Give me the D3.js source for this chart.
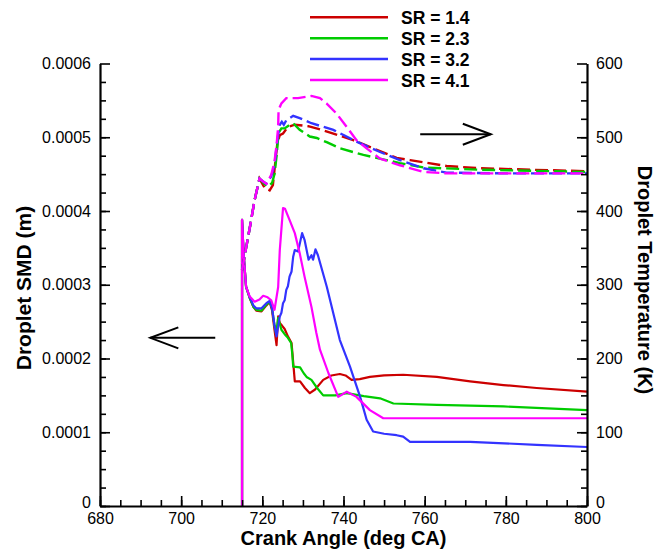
<!DOCTYPE html>
<html>
<head>
<meta charset="utf-8">
<script src="https://cdn.jsdelivr.net/npm/d3@7"></script>
<style>
  body { margin: 0; background: #fff; }
  svg { display: block; font-family: "Liberation Sans", Arial, sans-serif; }
</style>
</head>
<body>
<div id="chart"></div>
<script>
// Crank angle ticks and value ticks
const angleTicks = [680, 700, 720, 740, 760, 780, 800];
const smdTicks = [0, 0.0001, 0.0002, 0.0003, 0.0004, 0.0005, 0.0006];
const tempTicks = [0, 100, 200, 300, 400, 500, 600];

const seriesNames = ["SR = 1.4", "SR = 2.3", "SR = 3.2", "SR = 4.1"];
const seriesColors = ["#cc0000", "#00cc00", "#3333ff", "#ff00ff"];

// Droplet SMD (m) vs crank angle
const smd14 = [[715,0],[715,0.000388],[715.4,0.00034],[716,0.000297],[716.9,0.000282],[717.8,0.00027],
  [718.5,0.000265],[719.8,0.000264],[721,0.000272],[721.8,0.000277],[722.4,0.000265],[723,0.000239],
  [723.5,0.000218],[723.9,0.000257],[724.3,0.000248],[724.8,0.000245],[725.5,0.00024],[726.3,0.00023],
  [727.2,0.000221],[728,0.000169],[729.3,0.000169],[730.5,0.00016],[731.7,0.000153],[733,0.000158],
  [735,0.000171],[737,0.000177],[739.1,0.000179],[740.5,0.000177],[742,0.000171],[744,0.000172],
  [746.5,0.000175],[750,0.000177],[754.7,0.000178],[763,0.000175],[771.2,0.000169],[779.4,0.000164],
  [787.6,0.00016],[800,0.000155]];
const smd23 = [[715,0],[715,0.000388],[715.4,0.00034],[716,0.000297],[716.9,0.000282],[717.8,0.00027],
  [718.5,0.000266],[719.8,0.000265],[721,0.000273],[721.8,0.000277],[722.4,0.000268],[723,0.000245],
  [723.4,0.000233],[723.9,0.000255],[724.7,0.000239],[725.5,0.000233],[726.3,0.000228],[727.1,0.000221],
  [727.4,0.000205],[727.6,0.000189],[729.3,0.000188],[730.2,0.00018],[730.9,0.000175],[732.1,0.000171],
  [733.5,0.00016],[735,0.00015],[738,0.00015],[740.8,0.000153],[745,0.000149],[749,0.000146],
  [752.3,0.000139],[763,0.000137],[779.4,0.000135],[800,0.00013]];
const smd32 = [[715,0],[715,0.000388],[715.4,0.00034],[716,0.000297],[716.9,0.000283],[717.8,0.000272],
  [718.5,0.000268],[719.8,0.000268],[721,0.000275],[721.8,0.000278],[722.4,0.000268],[723,0.000245],
  [723.5,0.00023],[724.3,0.000257],[724.7,0.000262],[725.1,0.000275],[725.5,0.000279],[725.9,0.000293],
  [726.3,0.000298],[726.7,0.000311],[727.2,0.000318],[727.6,0.000338],[728,0.000347],[728.8,0.000345],
  [729.8,0.00037],[730.4,0.000361],[731.4,0.000334],[732.1,0.00034],[732.5,0.000334],[733.1,0.000348],
  [733.7,0.00034],[735.9,0.000297],[739.1,0.000225],[741.6,0.000189],[744.1,0.000148],[745.7,0.000117],
  [747.3,0.000101],[750,0.000098],[753.1,0.000096],[754.7,0.000094],[756.4,0.000087],[771.2,0.000087],
  [787.6,0.000083],[800,0.00008]];
const smd41 = [[715,0],[715,0.000388],[715.4,0.00034],[716,0.000297],[716.9,0.000284],[718.1,0.000277],
  [719.3,0.00028],[720.2,0.000285],[721.3,0.000283],[722.2,0.000279],[723,0.000266],[723.9,0.000297],
  [724.3,0.000347],[725.1,0.000404],[725.6,0.000403],[726.7,0.000388],[728,0.00037],[729.2,0.000343],
  [730.4,0.000311],[732.1,0.00027],[733.3,0.000235],[734.2,0.000212],[736.3,0.00018],[738.7,0.000148],
  [740.8,0.000155],[743.2,0.000148],[746.5,0.00013],[749.8,0.000119],[760,0.000119],[800,0.000119]];

// Droplet temperature (K) vs crank angle
const temp14 = [[715,320],[716,350],[717,380],[718.1,415],[719.3,444],[720.6,431],[721.8,428],[722.6,435],
  [723,456],[723.7,492],[724.3,503],[725.1,505],[726.3,514],[728,517],[731.3,515],[734,511],[737.5,505],
  [742.4,496],[748.2,483],[753.1,472],[756.4,469],[765.4,461],[773.6,458],[786,456],[800,454]];
const temp23 = [[715,320],[716,350],[717,380],[718.1,415],[719.3,444],[720.4,437],[721.4,433],[722.4,438],
  [723,450],[723.5,474],[724,506],[724.7,512],[725.5,512],[726.5,516],[727.6,519],[729.2,510],[731.7,501],
  [733.4,499],[736,493],[739.1,485],[744.9,476],[750.6,469],[753.9,465],[759.7,459],[773.6,456],[800,453]];
const temp32 = [[715,320],[716,350],[717,380],[718.1,415],[719.3,444],[720.2,440],[721,437],[722.2,447],
  [723,462],[723.7,496],[724.3,517],[724.8,521],[725.3,517],[725.9,523],[727.6,529],[729.2,526],[732.1,519],
  [734.5,515],[737.5,510],[740,503],[743.2,494],[749,480],[753.9,469],[759.7,458],[765.4,452],[780,451],[800,451]];
const temp41 = [[715,320],[716,350],[717,380],[718.1,415],[719.3,444],[720.2,440],[721,437],[722.2,449],
  [723,467],[723.5,489],[723.9,514],[724,537],[724.7,546],[725.9,553],[728.8,553],[732.1,556],[734.2,553],
  [735.8,546],[738.3,532],[740.8,514],[743.2,496],[745.7,485],[749,471],[753.9,462],[759.7,453],[765.4,451],[800,451]];

const smdSeries = [smd14, smd23, smd32, smd41];
const tempSeries = [temp14, temp23, temp32, temp41];

// annotation arrows [x1, y1, x2, y2] in data units (tip at x1)
const arrowSMD = [692.4, 0.000228, 708.4, 0.000228];
const arrowTemp = [776.3, 504, 758.9, 504];

const width = 655, height = 552;
const svg = d3.select("#chart").append("svg")
    .attr("width", width)
    .attr("height", height);

const x = d3.scaleLinear([680, 800], [100, 587]);
const ySMD = d3.scaleLinear([0, 0.0006], [506, 63.5]);
const yT = d3.scaleLinear([0, 600], [506, 63.5]);

// curves
const smdLine = d3.line().x(d => x(d[0])).y(d => ySMD(d[1]));
const tLine = d3.line().x(d => x(d[0])).y(d => yT(d[1]));

svg.append("g")
    .selectAll("path")
    .data(smdSeries)
    .join("path")
        .attr("d", smdLine)
        .attr("fill", "none")
        .attr("stroke", (d, i) => seriesColors[i])
        .attr("stroke-width", 2.2)
        .attr("stroke-linejoin", "round");

svg.append("g")
    .selectAll("path")
    .data(tempSeries)
    .join("path")
        .attr("d", tLine)
        .attr("fill", "none")
        .attr("stroke", (d, i) => seriesColors[i])
        .attr("stroke-width", 2.4)
        .attr("stroke-dasharray", "13,5");

// axes
const fmtSMD = d => d === 0 ? "0" : d.toFixed(4);

const gLeft = svg.append("g").attr("transform", "translate(100,0)");
gLeft.call(d3.axisLeft(ySMD).tickValues(d3.range(0, 24).map(i => i * 0.000025)).tickSize(-6).tickSizeOuter(0).tickFormat(""));
gLeft.call(g => g.selectAll(".domain").remove());
const gLeftMaj = svg.append("g").attr("transform", "translate(100,0)");
gLeftMaj.call(d3.axisLeft(ySMD).tickValues(smdTicks).tickSize(-10).tickSizeOuter(0).tickPadding(9).tickFormat(fmtSMD));

const gRight = svg.append("g").attr("transform", "translate(587,0)");
gRight.call(d3.axisRight(yT).tickValues(d3.range(0, 24).map(i => i * 25)).tickSize(-6).tickSizeOuter(0).tickFormat(""));
gRight.call(g => g.selectAll(".domain").remove());
const gRightMaj = svg.append("g").attr("transform", "translate(587,0)");
gRightMaj.call(d3.axisRight(yT).tickValues(tempTicks).tickSize(-10).tickSizeOuter(0).tickPadding(9));

const gBot = svg.append("g").attr("transform", "translate(0,506)");
gBot.call(d3.axisBottom(x).tickValues(d3.range(680, 801, 5)).tickSize(-6).tickSizeOuter(0).tickFormat(""));
gBot.call(g => g.selectAll(".domain").remove());
const gBotMaj = svg.append("g").attr("transform", "translate(0,506)");
gBotMaj.call(d3.axisBottom(x).tickValues(angleTicks).tickSize(-10).tickSizeOuter(0).tickPadding(7));

svg.selectAll(".tick line").attr("stroke", "#000").attr("stroke-width", 1.6);
svg.selectAll(".domain").attr("stroke", "#000").attr("stroke-width", 2.2);
svg.selectAll(".tick text")
    .attr("fill", "#000")
    .attr("font-size", 16)
    .attr("font-family", "Liberation Sans, Arial, sans-serif");
// zero labels of the value axes sit a little above the x-axis labels
gLeftMaj.selectAll(".tick text").filter(d => d === 0).attr("dy", "0.1em");
gRightMaj.selectAll(".tick text").filter(d => d === 0).attr("dy", "0.1em");

// axis titles
svg.append("text")
    .attr("transform", "translate(31,288) rotate(-90)")
    .attr("text-anchor", "middle")
    .attr("font-size", 21)
    .attr("font-weight", "bold")
    .text("Droplet SMD (m)");

svg.append("text")
    .attr("transform", "translate(638,280) rotate(90)")
    .attr("text-anchor", "middle")
    .attr("font-size", 20)
    .attr("font-weight", "bold")
    .text("Droplet Temperature (K)");

svg.append("text")
    .attr("x", 343.5)
    .attr("y", 545)
    .attr("text-anchor", "middle")
    .attr("font-size", 20)
    .attr("font-weight", "bold")
    .text("Crank Angle (deg CA)");

// arrows
function arrow(a, yScale) {
    const x1 = x(a[0]), y1 = yScale(a[1]), x2 = x(a[2]), y2 = yScale(a[3]);
    const dir = Math.sign(x2 - x1);
    const g = svg.append("g").attr("stroke", "#000").attr("stroke-width", 2).attr("fill", "none");
    g.append("line").attr("x1", x1).attr("y1", y1).attr("x2", x2).attr("y2", y2);
    g.append("polyline")
        .attr("points", `${x1 + dir * 28},${y1 - 10.5} ${x1},${y1} ${x1 + dir * 28},${y1 + 10.5}`);
}
arrow(arrowSMD, ySMD);
arrow(arrowTemp, yT);

// legend
const legend = svg.append("g")
    .selectAll("g")
    .data(seriesNames)
    .join("g")
        .attr("transform", (d, i) => `translate(0,${17.3 + i * 20.9})`);
legend.append("line")
    .attr("x1", 310).attr("x2", 388)
    .attr("stroke", (d, i) => seriesColors[i])
    .attr("stroke-width", 2.5);
legend.append("text")
    .attr("x", 401)
    .attr("y", 6.5)
    .attr("font-size", 17.5)
    .attr("font-weight", "bold")
    .text(d => d);
</script>
</body>
</html>
